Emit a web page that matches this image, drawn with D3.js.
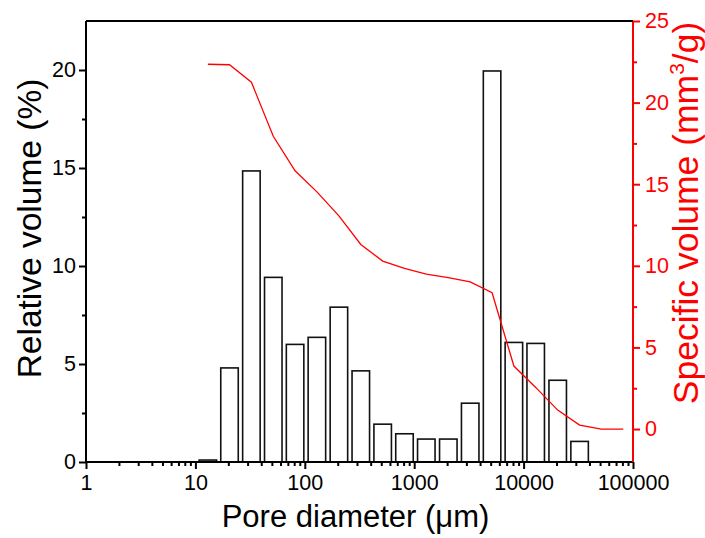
<!DOCTYPE html>
<html>
<head>
<meta charset="utf-8">
<script src="https://cdn.jsdelivr.net/npm/d3@7"></script>
<style>
    body { margin: 0; background: #fff; }
    svg { font-family: "Liberation Sans", Arial, sans-serif; }
</style>
</head>
<body>
<div class="chart"></div>
<script>
// bin centers (pore diameter, um)
var diameters = [13, 20.5, 32.5, 51.5, 81.5, 129, 205, 325, 515, 815, 1290, 2050, 3250, 5150, 8150, 12900, 20500, 32500];
// relative volume (%) per bin
var relVolume = [0.1, 4.8, 14.85, 9.42, 6.0, 6.36, 7.9, 4.65, 1.93, 1.44, 1.17, 1.17, 3.0, 19.95, 6.1, 6.05, 4.17, 1.05];

// specific volume (mm3/g) curve
var curveDiam = [13, 20.5, 32.5, 51.5, 81.5, 129, 205, 325, 515, 815, 1290, 2050, 3250, 5150, 8150, 12900, 20500, 32500, 51500, 81500];
var specVolume = [22.35, 22.32, 21.25, 17.94, 15.82, 14.53, 13.06, 11.31, 10.29, 9.84, 9.49, 9.27, 9.02, 8.35, 3.86, 2.55, 1.16, 0.24, 0.0, 0.0];

var xTickLabels = ["1", "10", "100", "1000", "10000", "100000"];
var leftTicks = [0, 5, 10, 15, 20];
var leftMinor = [2.5, 7.5, 12.5, 17.5];
var rightTicks = [0, 5, 10, 15, 20, 25];
var rightMinor = [2.5, 7.5, 12.5, 17.5, 22.5];

var width = 705, height = 538;
var margin = { left: 86, right: 72, top: 21, bottom: 76 };
var w = width - margin.left - margin.right;
var h = height - margin.top - margin.bottom;
var RED = "#ff0000";

var svg = d3.select(".chart").append("svg")
    .attr("width", width)
    .attr("height", height);

var g = svg.append("g")
    .attr("transform", "translate(" + margin.left + "," + margin.top + ")");

var xScale = d3.scaleLog().domain([1, 100000]).range([0, w]);
var yScale = d3.scaleLinear().domain([0, 22.5]).range([h, 0]);
var y2Scale = d3.scaleLinear().domain([-2.02, 25]).range([h, 0]);

// bars, 0.16 decade wide
var half = Math.pow(10, 0.08);
g.selectAll("rect.bar")
    .data(relVolume)
    .enter().append("rect")
    .attr("class", "bar")
    .attr("x", function (d, i) { return xScale(diameters[i] / half); })
    .attr("width", function (d, i) { return xScale(diameters[i] * half) - xScale(diameters[i] / half); })
    .attr("y", function (d) { return yScale(d); })
    .attr("height", function (d) { return h - yScale(d); })
    .attr("fill", "#fff")
    .attr("stroke", "#111")
    .attr("stroke-width", 1.6);

var line = d3.line()
    .x(function (d, i) { return xScale(curveDiam[i]); })
    .y(function (d) { return y2Scale(d); });

g.append("path")
    .datum(specVolume)
    .attr("d", line)
    .attr("fill", "none")
    .attr("stroke", RED)
    .attr("stroke-width", 1.3);

// x axis: majors with labels, minors without
var majors = xTickLabels.map(function (t) { return +t; });
var minors = [];
majors.slice(0, -1).forEach(function (m) {
    for (var k = 2; k < 10; k++) minors.push(m * k);
});

function noDomain(s) { s.select(".domain").remove(); }

g.append("g")
    .attr("transform", "translate(0," + h + ")")
    .call(d3.axisBottom(xScale).tickValues(minors).tickSize(4).tickFormat(""))
    .call(noDomain);

var xAxis = g.append("g")
    .attr("transform", "translate(0," + h + ")")
    .call(d3.axisBottom(xScale).tickValues(majors).tickSize(7).tickPadding(6)
        .tickFormat(function (d, i) { return xTickLabels[i]; }));

// left axis
g.append("g")
    .call(d3.axisLeft(yScale).tickValues(leftMinor).tickSize(4).tickFormat(""))
    .call(noDomain);
var yAxis = g.append("g")
    .call(d3.axisLeft(yScale).tickValues(leftTicks).tickSize(7).tickPadding(3));

// right axis (red)
var y2Minor = g.append("g")
    .attr("transform", "translate(" + w + ",0)")
    .call(d3.axisRight(y2Scale).tickValues(rightMinor).tickSize(4).tickFormat(""))
    .call(noDomain);
var y2Axis = g.append("g")
    .attr("transform", "translate(" + w + ",0)")
    .call(d3.axisRight(y2Scale).tickValues(rightTicks).tickSize(7).tickPadding(5));

g.selectAll("text").attr("font-size", 21.5).attr("font-family", "Liberation Sans, Arial, sans-serif");
xAxis.selectAll("text").attr("fill", "#000");
yAxis.selectAll("text").attr("fill", "#000");
y2Axis.selectAll("text").attr("fill", RED);

g.selectAll(".tick line").attr("stroke-width", 2);
xAxis.select(".domain").attr("stroke-width", 2).attr("d", "M0,0H" + w);
yAxis.select(".domain").attr("stroke-width", 2).attr("d", "M0,0V" + h);
y2Axis.select(".domain").attr("stroke", RED).attr("stroke-width", 2).attr("d", "M0,0V" + h);
y2Axis.selectAll(".tick line").attr("stroke", RED);
y2Minor.selectAll(".tick line").attr("stroke", RED);

// top frame
g.append("line")
    .attr("x1", 0).attr("x2", w)
    .attr("y1", 0).attr("y2", 0)
    .attr("stroke", "#000").attr("stroke-width", 2);

// titles
svg.append("text")
    .attr("x", margin.left + w / 2 - 4)
    .attr("y", 527)
    .attr("text-anchor", "middle")
    .attr("font-size", 31)
    .text("Pore diameter (\u03bcm)");

svg.append("text")
    .attr("transform", "translate(41," + (margin.top + h / 2 - 13) + ") rotate(-90)")
    .attr("text-anchor", "middle")
    .attr("font-size", 33.5)
    .text("Relative volume (%)");

var rt = svg.append("text")
    .attr("transform", "translate(698,213) rotate(-90)")
    .attr("text-anchor", "middle")
    .attr("font-size", 35.5)
    .attr("fill", RED);
rt.append("tspan").text("Specific volume (mm");
rt.append("tspan").attr("font-size", 21).attr("dy", -14).text("3");
rt.append("tspan").attr("dy", 14).text("/g)");
</script>
</body>
</html>
